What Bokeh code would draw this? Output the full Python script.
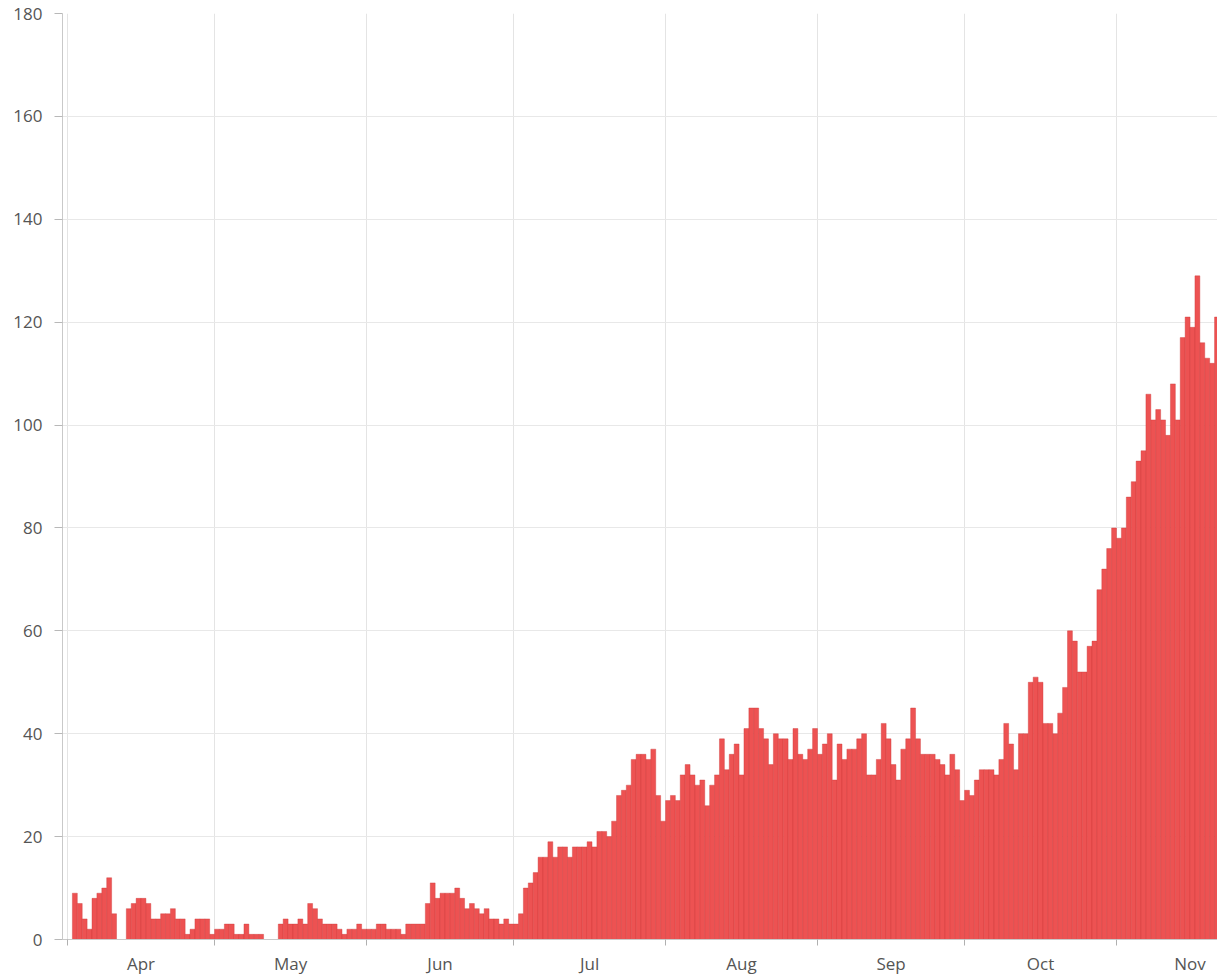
import pandas as pd
from bokeh.plotting import figure
from bokeh.models import ColumnDataSource, FixedTicker, Range1d, CustomJSTickFormatter
from bokeh.embed import file_html
from bokeh.resources import INLINE

# ---- data -------------------------------------------------------------
first_date = "2020-04-02"
daily_counts = [
    9, 7, 4, 2, 8, 9, 10, 12, 5, 0,
    0, 6, 7, 8, 8, 7, 4, 4, 5, 5,
    6, 4, 4, 1, 2, 4, 4, 4, 1, 2,
    2, 3, 3, 1, 1, 3, 1, 1, 1, 0,
    0, 0, 3, 4, 3, 3, 4, 3, 7, 6,
    4, 3, 3, 3, 2, 1, 2, 2, 3, 2,
    2, 2, 3, 3, 2, 2, 2, 1, 3, 3,
    3, 3, 7, 11, 8, 9, 9, 9, 10, 8,
    6, 7, 6, 5, 6, 4, 4, 3, 4, 3,
    3, 5, 10, 11, 13, 16, 16, 19, 16, 18,
    18, 16, 18, 18, 18, 19, 18, 21, 21, 20,
    23, 28, 29, 30, 35, 36, 36, 35, 37, 28,
    23, 27, 28, 27, 32, 34, 32, 30, 31, 26,
    30, 32, 39, 33, 36, 38, 32, 41, 45, 45,
    41, 39, 34, 40, 39, 39, 35, 41, 36, 35,
    37, 41, 36, 38, 40, 31, 38, 35, 37, 37,
    39, 40, 32, 32, 35, 42, 39, 34, 31, 37,
    39, 45, 39, 36, 36, 36, 35, 34, 32, 36,
    33, 27, 29, 28, 31, 33, 33, 33, 32, 35,
    42, 38, 33, 40, 40, 50, 51, 50, 42, 42,
    40, 44, 49, 60, 58, 52, 52, 57, 58, 68,
    72, 76, 80, 78, 80, 86, 89, 93, 95, 106,
    101, 103, 101, 98, 108, 101, 117, 121, 119, 129,
    116, 113, 112, 121,
]
month_names = ["Apr", "May", "Jun", "Jul", "Aug", "Sep", "Oct", "Nov"]
month_start_dates = ["2020-04-01", "2020-05-01", "2020-06-01", "2020-07-01",
                     "2020-08-01", "2020-09-01", "2020-10-01", "2020-11-01"]
month_end_date = "2020-12-01"
y_ticks = [0, 20, 40, 60, 80, 100, 120, 140, 160, 180]

# ---- derived positions (day offsets from 1 April) ----------------------
origin = pd.Timestamp(month_start_dates[0])
dates = pd.date_range(first_date, periods=len(daily_counts), freq="D")
x_days = [(d - origin).days + 0.5 for d in dates]
starts = [(pd.Timestamp(d) - origin).days for d in month_start_dates]
ends = starts[1:] + [(pd.Timestamp(month_end_date) - origin).days]
centers = [(s + e) / 2 for s, e in zip(starts, ends)]

source = ColumnDataSource(data=dict(x=x_days, v=daily_counts))

p = figure(width=1217, height=977,
           x_range=Range1d(-1.02, 234.6), y_range=Range1d(0, 180),
           output_backend="svg", toolbar_location=None,
           min_border_left=62, min_border_right=0,
           min_border_top=13, min_border_bottom=38)
p.outline_line_color = None
p.background_fill_color = "white"
p.border_fill_color = "white"

p.vbar(x="x", top="v", bottom=0, width=1.0, source=source,
       fill_color="#ed5252", line_color="#cc3a3a", line_width=0.8, line_alpha=0.5)

label_font = "Open Sans"
label_color = "#555555"
axis_color = "#c9c9c9"

# x axis: labels at month centres, ticks/grid at month starts
p.xaxis.ticker = FixedTicker(ticks=centers, minor_ticks=starts)
p.xaxis.formatter = CustomJSTickFormatter(
    args=dict(mcenters=centers, mnames=month_names),
    code="""
    for (let i = 0; i < mcenters.length; i++) {
        if (Math.abs(mcenters[i] - tick) < 0.01) { return mnames[i]; }
    }
    return "";
""")
p.xaxis.major_tick_out = 0
p.xaxis.major_tick_in = 0
p.xaxis.major_tick_line_color = None
p.xaxis.minor_tick_out = 6
p.xaxis.minor_tick_in = 0
p.xaxis.minor_tick_line_color = "#b0b0b0"
p.xaxis.axis_line_color = axis_color
p.xaxis.major_label_standoff = 6
p.xaxis.major_label_text_font = label_font
p.xaxis.major_label_text_font_size = "17px"
p.xaxis.major_label_text_color = label_color

p.xgrid.ticker = FixedTicker(ticks=starts)
p.xgrid.grid_line_color = "#e4e4e4"
p.xgrid.grid_line_width = 1

# y axis
p.yaxis.ticker = FixedTicker(ticks=y_ticks, minor_ticks=[])
p.yaxis.major_tick_out = 8
p.yaxis.major_tick_in = 0
p.yaxis.major_tick_line_color = "#b8b8b8"
p.yaxis.minor_tick_line_color = None
p.yaxis.axis_line_color = axis_color
p.yaxis.major_label_standoff = 12
p.yaxis.major_label_text_font = label_font
p.yaxis.major_label_text_font_size = "17px"
p.yaxis.major_label_text_color = label_color

p.ygrid.grid_line_color = "#e8e8e8"
p.ygrid.grid_line_width = 1

open("out.html", "w").write(file_html(p, INLINE))
